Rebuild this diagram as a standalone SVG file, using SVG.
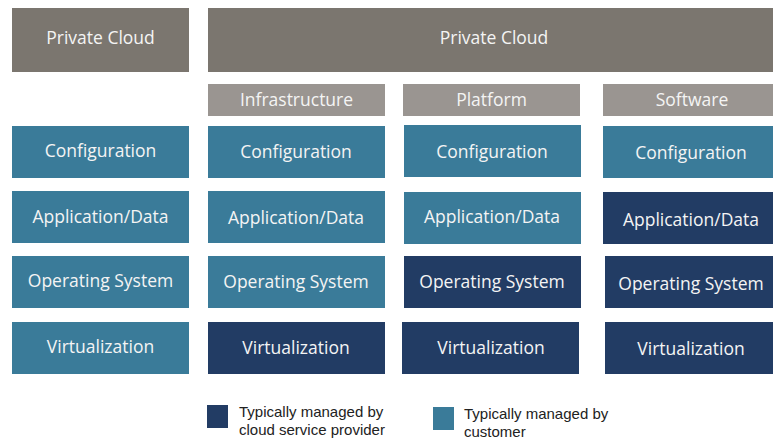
<svg xmlns="http://www.w3.org/2000/svg" width="773" height="440" viewBox="0 0 773 440">
<style>
.hd{fill:#7b766f}
.sh{fill:#9a9591}
.cu{fill:#3a7b99}
.pr{fill:#223c64}
text{font-family:"Open Sans","Noto Sans",sans-serif;fill:#f4f4f4;text-anchor:middle;font-size:17.5px}
.lg{font-family:"Liberation Sans",Arial,sans-serif;fill:#222;text-anchor:start;font-size:15px}
</style>
<rect width="773" height="440" fill="#fff"/>
<g id="hdr-left"><rect class="hd" x="12" y="8" width="177" height="64"/><text x="100.5" y="44">Private Cloud</text></g>
<g id="hdr-right"><rect class="hd" x="208" y="8" width="565" height="64"/><text x="494" y="44">Private Cloud</text></g>
<g id="sub-infra"><rect class="sh" x="208" y="84" width="177" height="32"/><text x="296.5" y="106">Infrastructure</text></g>
<g id="sub-platform"><rect class="sh" x="403" y="84" width="177" height="32"/><text x="491.5" y="106">Platform</text></g>
<g id="sub-software"><rect class="sh" x="603" y="84" width="170" height="32"/><text x="692" y="106">Software</text></g>

<g id="c1-config"><rect class="cu" x="12" y="126" width="177" height="52"/><text x="100.5" y="157">Configuration</text></g>
<g id="c1-app"><rect class="cu" x="12" y="191" width="177" height="52"/><text x="100.5" y="222.5">Application/Data</text></g>
<g id="c1-os"><rect class="cu" x="12" y="256" width="177" height="52"/><text x="100.5" y="287">Operating System</text></g>
<g id="c1-virt"><rect class="cu" x="12" y="322" width="177" height="52"/><text x="100.5" y="352.5">Virtualization</text></g>

<g id="c2-config"><rect class="cu" x="208" y="126" width="177" height="52"/><text x="296" y="158">Configuration</text></g>
<g id="c2-app"><rect class="cu" x="208" y="191" width="177" height="52"/><text x="296" y="223.5">Application/Data</text></g>
<g id="c2-os"><rect class="cu" x="208" y="256" width="177" height="52"/><text x="296" y="288">Operating System</text></g>
<g id="c2-virt"><rect class="pr" x="208" y="322" width="177" height="52"/><text x="296" y="353.5">Virtualization</text></g>

<g id="c3-config"><rect class="cu" x="404" y="125" width="177" height="52"/><text x="492" y="158">Configuration</text></g>
<g id="c3-app"><rect class="cu" x="404" y="192" width="177" height="52"/><text x="492" y="223">Application/Data</text></g>
<g id="c3-os"><rect class="pr" x="404" y="256" width="177" height="52"/><text x="492" y="287.5">Operating System</text></g>
<g id="c3-virt"><rect class="pr" x="402" y="322" width="177" height="52"/><text x="491" y="353.5">Virtualization</text></g>

<g id="c4-config"><rect class="cu" x="603" y="126" width="170" height="52"/><text x="691" y="159">Configuration</text></g>
<g id="c4-app"><rect class="pr" x="603" y="192" width="170" height="52"/><text x="691" y="225.5">Application/Data</text></g>
<g id="c4-os"><rect class="pr" x="605" y="256" width="168" height="52"/><text x="691" y="290">Operating System</text></g>
<g id="c4-virt"><rect class="pr" x="605" y="322" width="168" height="52"/><text x="691" y="355">Virtualization</text></g>

<g id="legend-provider"><rect class="pr" x="207" y="405" width="21" height="23"/><text class="lg" x="239" y="417">Typically managed by</text><text class="lg" x="239" y="435">cloud service provider</text></g>
<g id="legend-customer"><rect class="cu" x="433" y="407" width="21" height="23"/><text class="lg" x="464" y="419">Typically managed by</text><text class="lg" x="464" y="437">customer</text></g>
<g id="connectors"/>
</svg>
